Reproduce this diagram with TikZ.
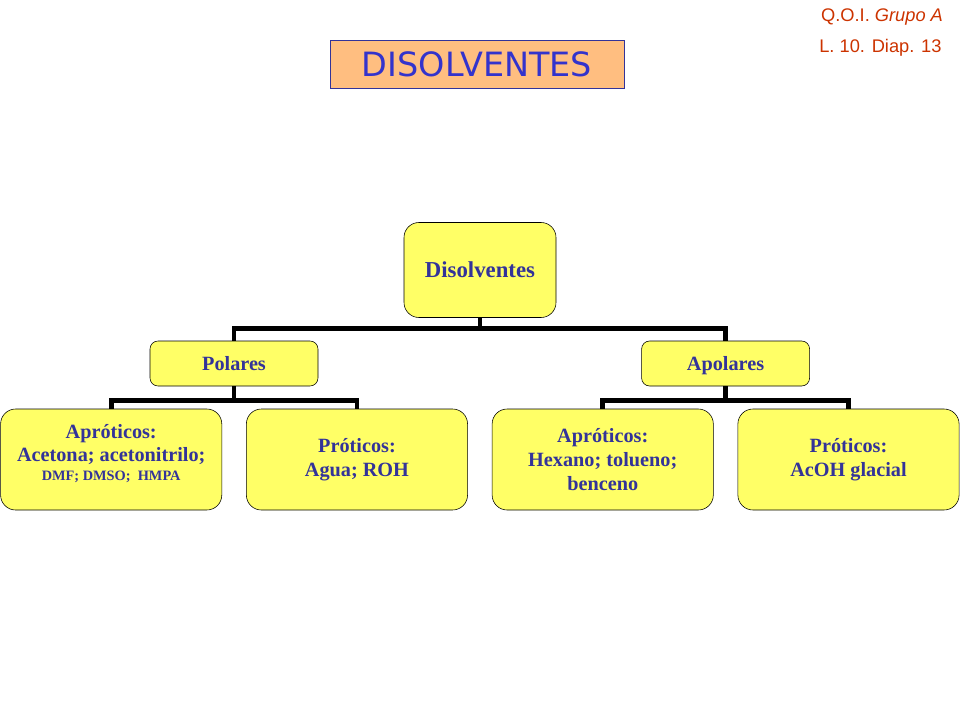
\documentclass[tikz,border=0pt]{standalone}
\usepackage{fontspec}
\setmainfont{Liberation Serif}
\newfontfamily\titlefont{DejaVu Sans}
\newfontfamily\notefont{Liberation Sans}
\usepackage{tikz}
\usetikzlibrary{calc,positioning}
\definecolor{boxyellow}{RGB}{255,255,102}
\definecolor{textblue}{RGB}{51,51,153}
\definecolor{titleblue}{RGB}{51,51,204}
\definecolor{titlefill}{RGB}{255,190,128}
\definecolor{notered}{RGB}{204,51,0}
\tikzset{
    semithick,node distance =0.6cm and 0.6cm,
    box/.style ={rectangle, rounded corners=0.375cm, draw, fill=boxyellow, text=textblue, align=center, inner sep=0pt},
    rootbox/.style = {box, minimum width=3.8cm, minimum height=2.375cm, font=\bfseries\fontsize{16.2}{19}\selectfont},
    midbox/.style = {box, rounded corners=0.2cm, minimum width=4.2cm, minimum height=1.125cm, text height=0.35cm, text depth=0pt, font=\bfseries\fontsize{14.4}{17}\selectfont},
    leafbox/.style = {box, minimum width=5.53cm, minimum height=2.525cm, font=\bfseries\fontsize{14.4}{17}\selectfont},
    branch/.style = {line width=3.5pt},
    note/.style = {text=notered, font=\notefont\fontsize{13}{15}\selectfont}
}

\begin{document}
\begin{tikzpicture}
	\useasboundingbox (0,0) rectangle (24,18);
	% title and slide reference
	\node[draw=textblue, fill=titlefill, minimum width=7.35cm, minimum height=1.2cm, text=titleblue, font=\titlefont\fontsize{23.8}{27}\selectfont] (0) at (11.925,16.4) {DISOLVENTES};
	\node[note] (q) at (22.05,17.58) {Q.O.I.~\textit{Grupo A}};
	\node[note] (l) at (22.01,16.81) {L. 10. Diap. 13};

	\node[rootbox] (1) at (12,11.25) {Disolventes};
	\node[midbox] (2) at (5.85,8.9125) {Polares};
	\node[midbox] (3) at (18.14,8.9125) {Apolares};
	\node[leafbox, text depth=0.37cm] (4) at (2.78,6.5125) {Apróticos:\\[-0.7pt]Acetona; acetonitrilo;\\[-3.5pt]{\fontsize{10.2}{12}\selectfont DMF; DMSO;~ HMPA}};
	\node[leafbox] (5) [right = of 4] {Próticos:\\Agua; ROH};
	\node[leafbox] (6) [right = of 5] {Apróticos:\\Hexano; tolueno;\\benceno};
	\node[leafbox] (7) [right = of 6] {Próticos:\\AcOH glacial};

	\draw[branch] (1.south) -- ++(0,-0.275) -| (2.north);
	\draw[branch] (1.south) -- ++(0,-0.275) -| (3.north);
	\draw[branch] (2.south) -- ++(0,-0.35) -| (4.north);
	\draw[branch] (2.south) -- ++(0,-0.35) -| (5.north);
	\draw[branch] (3.south) -- ++(0,-0.35) -| (6.north);
	\draw[branch] (3.south) -- ++(0,-0.35) -| (7.north);
\end{tikzpicture}
\end{document}
